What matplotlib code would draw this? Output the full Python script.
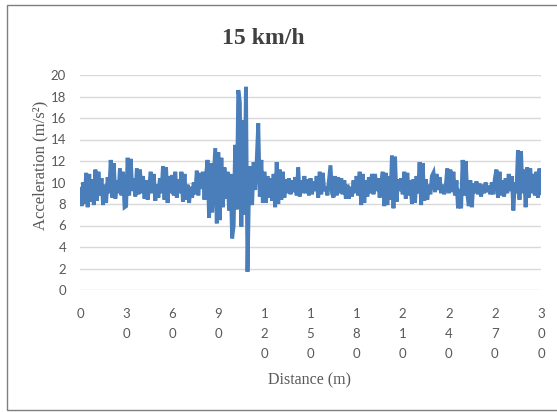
import numpy as np
import matplotlib
matplotlib.use("Agg")
import matplotlib.pyplot as plt
from matplotlib.patches import Rectangle

# acceleration, one value per metre (0..300 m)
accel = [
    9.4, 7.8, 10.0, 8.0, 10.9, 7.7, 10.8, 8.2, 10.3, 7.9,
    11.2, 8.3, 11.0, 8.8, 10.4, 7.9, 9.8, 8.1, 10.5, 9.0,
    12.1, 8.6, 11.8, 8.5, 10.2, 9.0, 11.3, 8.8, 11.0, 7.7,
    7.8, 12.3, 8.8, 12.2, 9.2, 10.4, 8.7, 11.3, 8.9, 11.2,
    9.0, 10.6, 8.5, 10.2, 8.4, 9.6, 11.0, 9.0, 10.8, 8.3,
    9.8, 8.6, 10.4, 9.0, 11.5, 8.4, 11.4, 8.1, 10.6, 9.0,
    10.7, 8.8, 11.0, 8.6, 10.3, 9.0, 11.0, 8.2, 10.8, 8.4,
    9.8, 8.1, 9.6, 8.6, 10.0, 8.9, 11.1, 8.8, 10.9, 9.4,
    11.0, 8.4, 10.6, 12.1, 6.7, 11.8, 7.2, 10.2, 13.2, 6.2,
    12.8, 6.5, 12.3, 7.7, 11.4, 8.5, 11.0, 7.4, 10.8, 4.8,
    6.0, 13.5, 7.5, 18.6, 17.5, 5.9, 15.8, 7.0, 18.9, 1.7,
    9.5, 11.5, 7.9, 11.9, 9.3, 12.0, 15.5, 8.7, 12.1, 8.1,
    11.0, 8.1, 10.6, 8.6, 10.4, 8.3, 10.8, 7.7, 11.9, 8.0,
    11.2, 8.4, 11.0, 8.6, 10.3, 9.0, 10.4, 8.9, 10.2, 9.1,
    10.5, 8.8, 11.4, 8.7, 10.2, 9.0, 10.6, 9.0, 10.3, 8.8,
    10.4, 8.9, 10.1, 9.2, 10.6, 8.6, 11.0, 8.9, 10.9, 9.2,
    9.6, 8.8, 10.2, 11.6, 9.0, 8.6, 10.6, 8.8, 10.5, 9.0,
    10.4, 8.9, 10.2, 8.5, 9.8, 8.5, 9.6, 8.7, 10.2, 9.0,
    10.6, 8.8, 11.0, 7.9, 10.8, 8.1, 10.2, 8.7, 10.5, 9.0,
    10.8, 8.9, 10.8, 9.2, 10.4, 8.6, 10.0, 11.0, 7.8, 10.9,
    7.9, 10.6, 8.4, 12.5, 7.6, 12.4, 8.2, 10.3, 9.2, 10.4,
    8.9, 11.0, 8.5, 10.9, 8.8, 10.2, 8.0, 10.3, 8.1, 10.6,
    9.0, 11.9, 7.9, 11.8, 8.3, 10.3, 8.4, 9.8, 8.9, 10.6,
    10.9, 9.1, 10.8, 9.3, 10.5, 9.0, 9.8, 8.9, 9.6, 11.3,
    9.0, 11.2, 9.1, 11.0, 8.8, 10.2, 7.6, 9.4, 7.6, 12.1,
    8.8, 12.0, 9.0, 7.8, 10.2, 7.7, 9.9, 9.0, 10.1, 8.9,
    9.9, 8.7, 9.8, 9.0, 10.0, 9.1, 9.7, 8.9, 10.0, 8.9,
    10.4, 11.2, 8.6, 11.0, 8.8, 10.2, 8.7, 10.4, 9.0, 10.8,
    9.2, 10.6, 7.4, 10.0, 9.0, 13.0, 8.4, 12.9, 9.0, 11.2,
    7.7, 11.4, 8.6, 11.3, 9.0, 10.8, 8.8, 11.0, 8.6, 11.3, 9.0,
]
distance = np.arange(len(accel))

xticks = [0, 30, 60, 90, 120, 150, 180, 210, 240, 270, 300]
yticks = [0, 2, 4, 6, 8, 10, 12, 14, 16, 18, 20]

fig = plt.figure(figsize=(5.57, 4.12), dpi=100)
W, H = 557, 412
ax = fig.add_axes([80 / W, (H - 290) / H, 461 / W, 215 / H])

ax.plot(distance, accel, color="#4a7ebb", lw=2.8, solid_joinstyle="miter")

ax.set_xlim(0, 300)
ax.set_ylim(0, 20)
ax.set_yticks(yticks)
ax.set_xticks(xticks)
ax.set_xticklabels(["\n".join(str(t)) for t in xticks])
ax.grid(axis="y", color="#d9d9d9", lw=1)
ax.set_axisbelow(True)
for s in ax.spines.values():
    s.set_visible(False)
ax.tick_params(length=0, colors="#595959", labelsize=9.5)
ax.tick_params(axis="y", pad=10)
ax.tick_params(axis="x", pad=13)
for lab in ax.get_xticklabels() + ax.get_yticklabels():
    lab.set_family("Lato")
for lab in ax.get_xticklabels():
    lab.set_linespacing(1.78)
    lab.set_verticalalignment("top")

fig.text(263 / W, 1 - 38 / H, "15 km/h", ha="center", va="center",
         family="Liberation Serif", weight="bold", fontsize=17, color="#404040")
fig.text(310 / W, 1 - 380 / H, "Distance (m)", ha="center", va="center",
         family="Liberation Serif", fontsize=11.5, color="#595959")
fig.text(40 / W, 1 - 165 / H, "Acceleration (m/s²)", ha="center", va="center",
         rotation=90, family="Liberation Serif", fontsize=12, color="#595959")

fig.patches.append(Rectangle((7 / W, 2 / H), 1.2, 405 / H, transform=fig.transFigure,
                             fill=False, edgecolor="#7f7f7f", lw=1))

fig.savefig("out.png", dpi=100)
